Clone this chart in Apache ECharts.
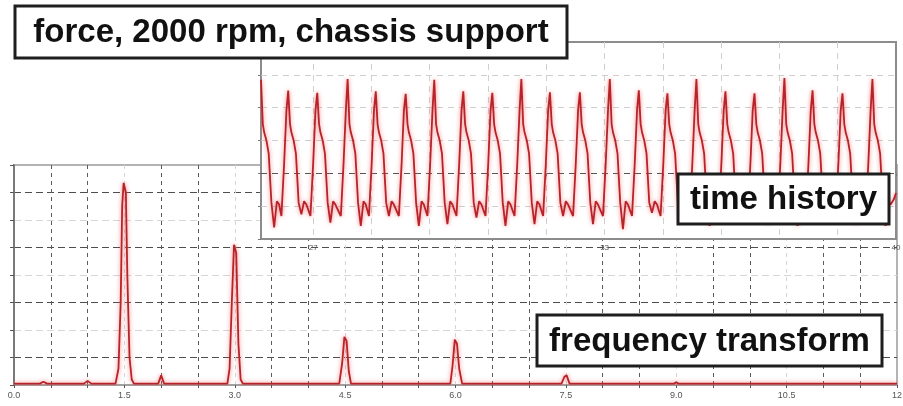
<!DOCTYPE html>
<html>
<head>
<meta charset="utf-8">
<script src="https://cdn.jsdelivr.net/npm/echarts@6/dist/echarts.min.js"></script>
<style>
  html, body { margin: 0; padding: 0; background: #fff; }
  #main { width: 903px; height: 406px; }
</style>
</head>
<body>
<div id="main"></div>
<script>
const titleText = 'force, 2000 rpm, chassis support'
const thBoxText = 'time history'
const ftBoxText = 'frequency transform'

// frequency transform: frequency and amplitude
const freqHz = [0.00, 0.35, 0.40, 0.45, 0.95, 1.00, 1.05,
  1.38, 1.42, 1.45, 1.47, 1.49, 1.52, 1.54, 1.57, 1.60, 1.63,
  1.96, 2.00, 2.04,
  2.90, 2.93, 2.96, 2.99, 3.02, 3.05, 3.08, 3.11,
  4.42, 4.46, 4.49, 4.52, 4.55, 4.58,
  5.93, 5.96, 5.99, 6.02, 6.05, 6.09,
  7.44, 7.48, 7.51, 7.55,
  8.97, 9.00, 9.03, 12.00]
const freqAmp = [0.05, 0.05, 0.12, 0.05, 0.05, 0.15, 0.05,
  0.05, 0.6, 3.0, 6.5, 7.35, 7.0, 4.0, 1.0, 0.2, 0.05,
  0.05, 0.35, 0.05,
  0.05, 0.6, 3.0, 5.1, 4.8, 1.5, 0.2, 0.05,
  0.05, 0.8, 1.75, 1.6, 0.5, 0.05,
  0.05, 0.7, 1.65, 1.5, 0.6, 0.05,
  0.05, 0.3, 0.35, 0.05,
  0.05, 0.1, 0.05, 0.05]
const freqLabels = ['0.0', '1.5', '3.0', '4.5', '6.0', '7.5', '9.0', '10.5', '12']

// time history inset, one row per cycle
const thTime = [
  26.00, 26.04, 26.07, 26.12, 26.17, 26.23, 26.29, 26.35, 26.40, 26.45, 26.51, 26.56,
  26.60, 26.64, 26.67, 26.72, 26.77, 26.83, 26.89, 26.95, 27.00, 27.09, 27.15, 27.20,
  27.24, 27.28, 27.31, 27.36, 27.41, 27.47, 27.53, 27.59, 27.64, 27.76, 27.82, 27.87,
  27.91, 27.95, 27.98, 28.03, 28.08, 28.14, 28.20, 28.26, 28.31, 28.38, 28.44, 28.49,
  28.53, 28.57, 28.60, 28.65, 28.70, 28.76, 28.82, 28.88, 28.93, 29.04, 29.10, 29.15,
  29.19, 29.23, 29.26, 29.31, 29.36, 29.42, 29.48, 29.54, 29.59, 29.67, 29.73, 29.78,
  29.82, 29.86, 29.89, 29.94, 29.99, 30.05, 30.11, 30.17, 30.22, 30.31, 30.37, 30.42,
  30.46, 30.50, 30.53, 30.58, 30.63, 30.69, 30.75, 30.81, 30.86, 30.95, 31.01, 31.06,
  31.10, 31.14, 31.17, 31.22, 31.27, 31.33, 31.39, 31.45, 31.50, 31.59, 31.65, 31.70,
  31.74, 31.78, 31.81, 31.86, 31.91, 31.97, 32.03, 32.09, 32.14, 32.22, 32.28, 32.33,
  32.37, 32.41, 32.44, 32.49, 32.54, 32.60, 32.66, 32.72, 32.77, 32.88, 32.94, 32.99,
  33.03, 33.07, 33.10, 33.15, 33.20, 33.26, 33.32, 33.38, 33.43, 33.54, 33.60, 33.65,
  33.69, 33.73, 33.76, 33.81, 33.86, 33.92, 33.98, 34.04, 34.09, 34.18, 34.24, 34.29,
  34.33, 34.37, 34.40, 34.45, 34.50, 34.56, 34.62, 34.68, 34.73, 34.81, 34.87, 34.92,
  34.96, 35.00, 35.03, 35.08, 35.13, 35.19, 35.25, 35.31, 35.36, 35.45, 35.51, 35.56,
  35.60, 35.64, 35.67, 35.72, 35.77, 35.83, 35.89, 35.95, 36.00, 36.09, 36.15, 36.20,
  36.24, 36.28, 36.31, 36.36, 36.41, 36.47, 36.53, 36.59, 36.64, 36.73, 36.79, 36.84,
  36.88, 36.92, 36.95, 37.00, 37.05, 37.11, 37.17, 37.23, 37.28, 37.39, 37.45, 37.50,
  37.54, 37.58, 37.61, 37.66, 37.71, 37.77, 37.83, 37.89, 37.94, 38.01, 38.07, 38.12,
  38.16, 38.20, 38.23, 38.28, 38.33, 38.39, 38.45, 38.51, 38.56, 38.67, 38.73, 38.78,
  38.82, 38.86, 38.89, 38.94, 38.99, 39.05, 39.11, 39.17, 39.22, 39.33, 39.39, 39.44,
  39.48, 39.52, 39.55, 39.60, 39.65, 39.71, 39.77, 39.83, 39.88, 39.95, 40.00
]
const thForce = [
  2.85, 1.5, 1.25, 1.0, 0.6, -0.9, -1.65, -0.85, -0.95, -1.3, 0.3, 1.9,
  2.52, 1.5, 1.25, 1.0, 0.6, -0.9, -1.25, -0.85, -0.95, -1.3, 0.3, 1.9,
  2.45, 1.5, 1.25, 1.0, 0.6, -0.9, -1.5, -0.85, -0.95, -1.3, 0.3, 1.9,
  2.87, 1.5, 1.25, 1.0, 0.6, -0.9, -1.6, -0.85, -0.95, -1.3, 0.3, 1.9,
  2.50, 1.5, 1.25, 1.0, 0.6, -0.9, -1.3, -0.85, -0.95, -1.3, 0.3, 1.9,
  2.42, 1.5, 1.25, 1.0, 0.6, -0.9, -1.6, -0.85, -0.95, -1.3, 0.3, 1.9,
  2.85, 1.5, 1.25, 1.0, 0.6, -0.9, -1.55, -0.85, -0.95, -1.3, 0.3, 1.9,
  2.50, 1.5, 1.25, 1.0, 0.6, -0.9, -1.35, -0.85, -0.95, -1.3, 0.3, 1.9,
  2.45, 1.5, 1.25, 1.0, 0.6, -0.9, -1.6, -0.85, -0.95, -1.3, 0.3, 1.9,
  2.87, 1.5, 1.25, 1.0, 0.6, -0.9, -1.55, -0.85, -0.95, -1.3, 0.3, 1.9,
  2.47, 1.5, 1.25, 1.0, 0.6, -0.9, -1.3, -0.85, -0.95, -1.3, 0.3, 1.9,
  2.47, 1.5, 1.25, 1.0, 0.6, -0.9, -1.55, -0.85, -0.95, -1.3, 0.3, 1.9,
  2.87, 1.5, 1.25, 1.0, 0.6, -0.9, -1.7, -0.85, -0.95, -1.3, 0.3, 1.9,
  2.53, 1.5, 1.25, 1.0, 0.6, -0.9, -1.2, -0.85, -0.95, -1.3, 0.3, 1.9,
  2.44, 1.5, 1.25, 1.0, 0.6, -0.9, -1.5, -0.85, -0.95, -1.3, 0.3, 1.9,
  2.87, 1.5, 1.25, 1.0, 0.6, -0.9, -1.6, -0.85, -0.95, -1.3, 0.3, 1.9,
  2.50, 1.5, 1.25, 1.0, 0.6, -0.9, -1.3, -0.85, -0.95, -1.3, 0.3, 1.9,
  2.44, 1.5, 1.25, 1.0, 0.6, -0.9, -1.55, -0.85, -0.95, -1.3, 0.3, 1.9,
  2.90, 1.5, 1.25, 1.0, 0.6, -0.9, -1.6, -0.85, -0.95, -1.3, 0.3, 1.9,
  2.53, 1.5, 1.25, 1.0, 0.6, -0.9, -1.3, -0.85, -0.95, -1.3, 0.3, 1.9,
  2.44, 1.5, 1.25, 1.0, 0.6, -0.9, -1.55, -0.85, -0.95, -1.3, 0.3, 1.9,
  2.87, 1.5, 1.25, 1.0, 0.6, -0.9, -1.6, -0.85, -0.95, -0.8, -0.6
]
const thTicks = [27.15, 28.435, 29.72, 31.005, 32.29, 33.575, 34.86, 36.145, 37.43, 38.715, 40.0]
const thLabelValues = [27.15, 33.575, 40.0]
const thLabels = ['27', '33', '40']

const boxFont = 'bold 33px "Liberation Sans", Arial, sans-serif'

const chart = echarts.init(document.getElementById('main'), null, { renderer: 'canvas' })

const freqLabel = (v) => {
  const k = v / 1.5
  if (Math.abs(k - Math.round(k)) > 1e-6) return ''
  return freqLabels[Math.round(k)] || ''
}
const thLabel = (v) => {
  const i = thLabelValues.findIndex((t) => Math.abs(t - v) < 1e-3)
  return i < 0 ? '' : thLabels[i]
}

const labelBox = (x, y, w, h, text) => [
  {
    type: 'rect',
    z: 20,
    shape: { x: x, y: y, width: w, height: h },
    style: { fill: '#fff', stroke: '#1e1e1e', lineWidth: 3 },
  },
  {
    type: 'text',
    z: 21,
    x: x + w / 2,
    y: y + h / 2 + 1,
    style: {
      text: text,
      font: boxFont,
      fill: '#111',
      align: 'center',
      verticalAlign: 'middle',
    },
  },
]

const redLine = {
  color: '#b8232a',
  width: 1.8,
  shadowColor: 'rgba(240,90,90,0.8)',
  shadowBlur: 4,
}

const option = {
  animation: false,
  backgroundColor: '#fff',
  grid: [
    {
      left: 14, right: 6, top: 165, bottom: 21,
      show: true, borderColor: '#b4b4b4', borderWidth: 2,
      outerBoundsMode: 'none',
    },
    {
      left: 261, right: 7, top: 42, bottom: 167,
      show: true, backgroundColor: '#fff', borderColor: '#8c8c8c', borderWidth: 2,
      z: 3, outerBoundsMode: 'none',
    },
  ],
  xAxis: [
    {
      gridIndex: 0,
      type: 'value',
      min: 0,
      max: 12,
      interval: 0.5,
      axisLine: { show: true, lineStyle: { color: '#999', width: 1.5 } },
      axisTick: { show: true, length: 3, lineStyle: { color: '#555' } },
      axisLabel: { fontSize: 9, color: '#555', margin: 6, formatter: freqLabel },
      splitLine: {
        show: true,
        showMinLine: false,
        showMaxLine: false,
        lineStyle: { color: ['#5c5c5c', '#5c5c5c', '#d6d6d6'], type: [4, 4], width: 1 },
      },
    },
    {
      gridIndex: 1,
      type: 'value',
      min: 26,
      max: 40,
      z: 5,
      axisLine: { show: false },
      axisTick: { show: true, customValues: thTicks, length: 3, lineStyle: { color: '#777' } },
      axisLabel: { customValues: thLabelValues, fontSize: 8, color: '#555', margin: 5, formatter: thLabel },
      splitLine: {
        show: true,
        showMaxLine: false,
        lineStyle: { color: '#cfcfcf', type: [6, 5], width: 1 },
      },
    },
  ],
  yAxis: [
    {
      gridIndex: 0,
      type: 'value',
      min: 0,
      max: 8,
      interval: 1,
      axisLine: { show: true, lineStyle: { color: '#7a7a7a', width: 2 } },
      axisTick: { show: true, length: 4, lineStyle: { color: '#555' } },
      axisLabel: { show: false },
      splitLine: {
        show: true,
        showMinLine: false,
        showMaxLine: false,
        lineStyle: { color: ['#4e4e4e', '#d6d6d6'], type: [7, 4], width: 1.2 },
      },
    },
    {
      gridIndex: 1,
      type: 'value',
      min: -2,
      max: 4,
      interval: 1,
      z: 5,
      axisLine: { show: false },
      axisTick: { show: true, length: 3, lineStyle: { color: '#777' } },
      axisLabel: { show: false },
      splitLine: {
        show: true,
        showMinLine: false,
        showMaxLine: false,
        lineStyle: {
          color: ['#cfcfcf', '#555', '#cfcfcf', '#cfcfcf', '#cfcfcf'],
          type: [6, 5],
          width: 1,
        },
      },
    },
  ],
  series: [
    {
      type: 'line',
      xAxisIndex: 0,
      yAxisIndex: 0,
      z: 2,
      symbol: 'none',
      data: freqHz.map((f, i) => [f, freqAmp[i]]),
      lineStyle: redLine,
    },
    {
      type: 'line',
      xAxisIndex: 1,
      yAxisIndex: 1,
      z: 6,
      symbol: 'none',
      data: thTime.map((t, i) => [t, thForce[i]]),
      lineStyle: redLine,
    },
  ],
  graphic: [
    ...labelBox(15, 6, 552, 52, titleText),
    ...labelBox(537, 315, 345, 51, ftBoxText),
    ...labelBox(678, 174, 211, 50, thBoxText),
  ],
}

chart.setOption(option)
</script>
</body>
</html>
